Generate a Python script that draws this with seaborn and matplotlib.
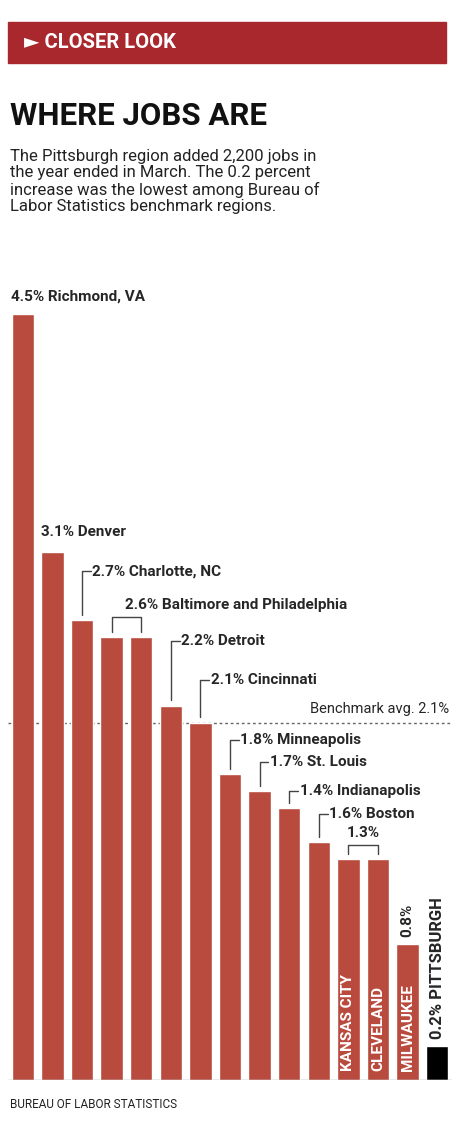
import matplotlib
matplotlib.use("Agg")
import matplotlib.pyplot as plt
import seaborn as sns
import pandas as pd

sns.set_theme(style="white")
plt.rcParams['font.family'] = ['Roboto', 'DejaVu Sans']

# data
cities = ["Richmond", "Denver", "Charlotte", "Baltimore", "Philadelphia", "Detroit", "Cincinnati",
          "Minneapolis", "St. Louis", "Indianapolis", "Boston", "Kansas City", "Cleveland",
          "Milwaukee", "Pittsburgh"]
values = [4.5, 3.1, 2.7, 2.6, 2.6, 2.2, 2.1, 1.8, 1.7, 1.6, 1.4, 1.3, 1.3, 0.8, 0.2]
benchmark = 2.1

RED = "#B84A3E"
HEAD = "#A8282D"

df = pd.DataFrame({"city": cities, "value": values})

fig = plt.figure(figsize=(4.64, 11.24), dpi=100)
W, H = 464, 1124

def fx(px):
    return px / W

def fy(py):
    return 1 - py / H

# header
fig.patches.append(plt.Rectangle((fx(8), fy(63)), fx(438), 41 / H, transform=fig.transFigure,
                                 color=HEAD, zorder=0))
fig.text(fx(24), fy(43), "► CLOSER LOOK", color="white", fontsize=14.5, fontweight="bold", va="center")
fig.text(fx(10), fy(116), "WHERE JOBS ARE", fontsize=22.5, fontweight="bold", va="center", color="#111111")
fig.text(fx(10), fy(149), "The Pittsburgh region added 2,200 jobs in\nthe year ended in March. The 0.2 percent\n"
         "increase was the lowest among Bureau of\nLabor Statistics benchmark regions.",
         fontsize=12, va="top", linespacing=1.12, color="#222222")
fig.text(fx(10), fy(1105), "BUREAU OF LABOR STATISTICS", fontsize=8.5, va="center", color="#222222")

ax = fig.add_axes([fx(8), fy(1080), fx(444), (1080 - 280) / H])
colors = [RED] * (len(cities) - 1) + ["black"]
sns.barplot(data=df, x="city", y="value", hue="city", palette=colors, legend=False,
            width=0.76, ax=ax, saturation=1)
ax.set_xlim(-0.5, len(cities) - 0.5)
ax.set_ylim(0, 4.7)
ax.axis("off")
ax.axhline(0, color="#999999", lw=1)

ax.axhline(benchmark, color="#666666", lw=1, ls=(0, (2, 2)), zorder=0)
ax.text(14.4, benchmark + 0.04, "Benchmark avg. 2.1%", ha="right", va="bottom", fontsize=10.5)

fs = 11
ax.text(-0.4, 4.6, "4.5% Richmond, VA", fontsize=fs, fontweight="bold", va="center")
ax.text(0.6, 3.22, "3.1% Denver", fontsize=fs, fontweight="bold", va="center")

def conn(i, ly, text):
    ax.plot([i, i, i + 0.3], [values[i] + 0.03, ly, ly], color="#444444", lw=1)
    ax.text(i + 0.35, ly, text, fontsize=fs, fontweight="bold", va="center")

def bracket(i, j, ly, text, dx=0.1):
    ax.plot([i, i, j, j], [values[i] + 0.03, ly, ly, values[j] + 0.03], color="#444444", lw=1)
    ax.text((i + j) / 2 + dx, ly + 0.03, text, fontsize=fs, fontweight="bold", va="bottom", ha="center")

conn(2, 2.99, "2.7% Charlotte, NC")
bracket(3, 4, 2.72, "2.6% Baltimore and Philadelphia", dx=3.7)
conn(5, 2.58, "2.2% Detroit")
conn(6, 2.35, "2.1% Cincinnati")
conn(7, 2.0, "1.8% Minneapolis")
conn(8, 1.87, "1.7% St. Louis")
conn(9, 1.7, "1.4% Indianapolis")
conn(10, 1.56, "1.6% Boston")
bracket(11, 12, 1.38, "1.3%", dx=0)

for i, name in [(11, "KANSAS CITY"), (12, "CLEVELAND"), (13, "MILWAUKEE")]:
    ax.text(i, 0.05, name, rotation=90, color="white", fontsize=11, fontweight="bold",
            ha="center", va="bottom")
ax.text(13, values[13] + 0.04, "0.8%", rotation=90, fontsize=fs, fontweight="bold", ha="center", va="bottom")
ax.text(14, values[14] + 0.04, "0.2% PITTSBURGH", rotation=90, fontsize=12, fontweight="bold",
        ha="center", va="bottom")

fig.savefig("out.png", dpi=100)
